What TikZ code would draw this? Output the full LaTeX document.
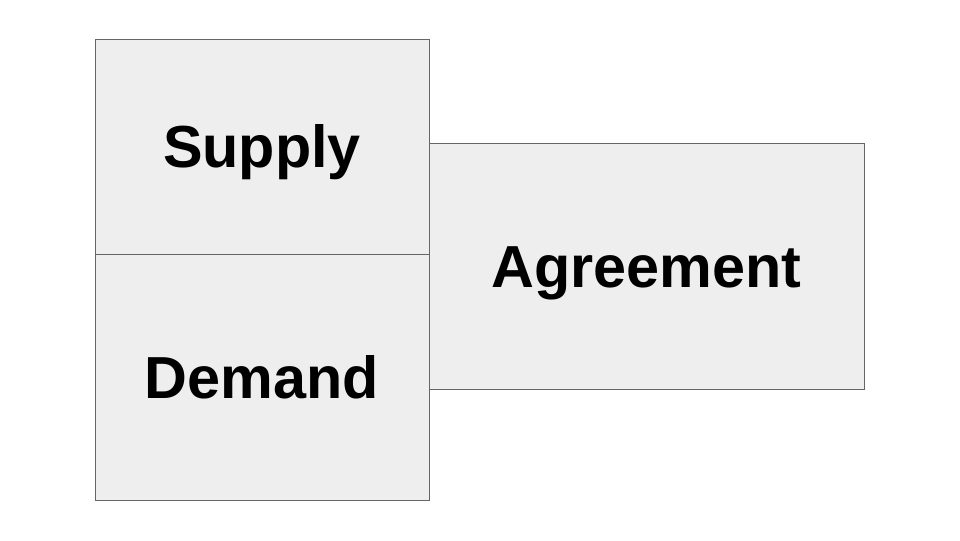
\documentclass[tikz,border=0pt]{standalone}
\usepackage{fontspec}
\setmainfont{Liberation Sans}
\definecolor{boxfill}{HTML}{EEEEEE}
\definecolor{boxline}{HTML}{666666}
\begin{document}
\begin{tikzpicture}[x=0.75pt,y=-0.75pt,
  blk/.style={draw=boxline,fill=boxfill,line width=0.75pt,inner sep=0pt,
    font=\fontsize{44.5}{50}\selectfont\bfseries,text height=31.9pt,text depth=0pt}]
\useasboundingbox (0,0) rectangle (960,540);
\node[blk,minimum width=334*0.75pt,minimum height=215*0.75pt] (supply) at (262,146.5) {Supply};
\node[blk,minimum width=334*0.75pt,minimum height=246*0.75pt] (demand) at (262,377) {Demand};
\node[blk,minimum width=435*0.75pt,minimum height=246*0.75pt] (agree) at (646.5,266) {Agreement};
\end{tikzpicture}
\end{document}
